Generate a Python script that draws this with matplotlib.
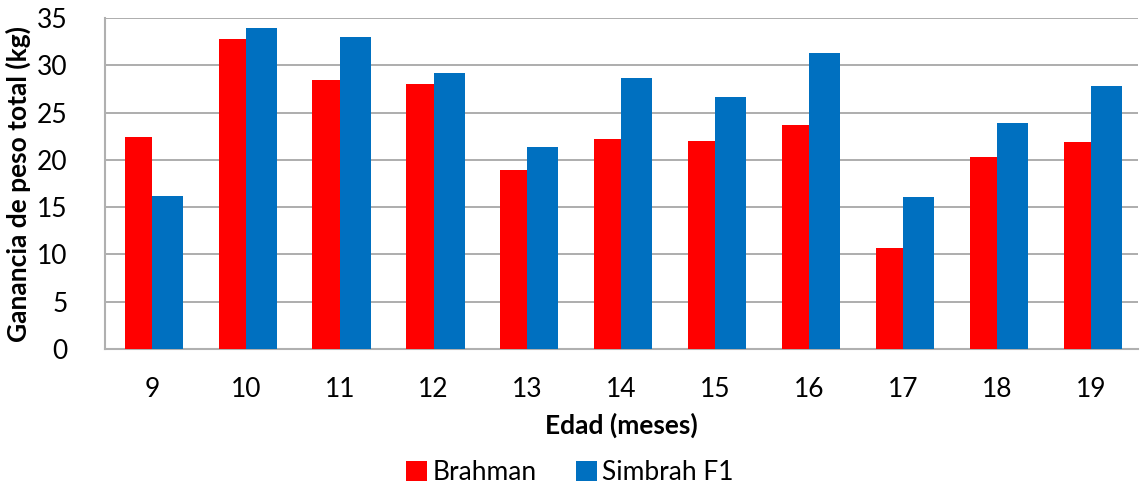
import matplotlib
matplotlib.use("Agg")
import matplotlib.pyplot as plt
import numpy as np

months = ["9", "10", "11", "12", "13", "14", "15", "16", "17", "18", "19"]
brahman = [22.4, 32.8, 28.4, 28.0, 18.9, 22.2, 22.0, 23.7, 10.7, 20.3, 21.9]
simbrah = [16.2, 33.9, 33.0, 29.2, 21.4, 28.7, 26.7, 31.3, 16.1, 23.9, 27.8]
yticks = [0, 5, 10, 15, 20, 25, 30, 35]

plt.rcParams['font.family'] = ['Lato', 'DejaVu Sans']

fig = plt.figure(figsize=(11.4, 4.87), dpi=100)
ax = fig.add_axes([0.0921, 0.2834, 0.9059, 0.6796])

x = np.arange(len(months))
wb = 0.29
ws = 0.33
ax.bar(x - wb / 2, brahman, width=wb, color='#FF0000', label='Brahman', zorder=3)
ax.bar(x + ws / 2, simbrah, width=ws, color='#0070C0', label='Simbrah F1', zorder=3)

ax.set_xlim(-0.5, len(months) - 0.5)
ax.set_ylim(0, 35)
ax.set_yticks(yticks)
ax.set_xticks(x)
ax.set_xticklabels(months)
ax.yaxis.grid(True, color='#A0A0A0', linewidth=1.2, zorder=0)
ax.tick_params(axis='both', length=0, labelsize=19, colors='black')
ax.tick_params(axis='x', pad=20)
ax.tick_params(axis='y', pad=27)
for s in ['top', 'right']:
    ax.spines[s].set_visible(False)
for s in ['left', 'bottom']:
    ax.spines[s].set_color('#B0B0B0')
    ax.spines[s].set_linewidth(1.5)

ax.set_xlabel('Edad (meses)', fontsize=19, fontweight='bold', labelpad=8)
ax.set_ylabel('Ganancia de peso total (kg)', fontsize=19, fontweight='bold', labelpad=4)

leg = fig.legend(loc='center', bbox_to_anchor=(0.5, 0.03), ncol=2, frameon=False,
                 fontsize=19, handlelength=0.8, handleheight=0.8, handletextpad=0.2,
                 columnspacing=1.5)

fig.savefig('out.png', dpi=100)
